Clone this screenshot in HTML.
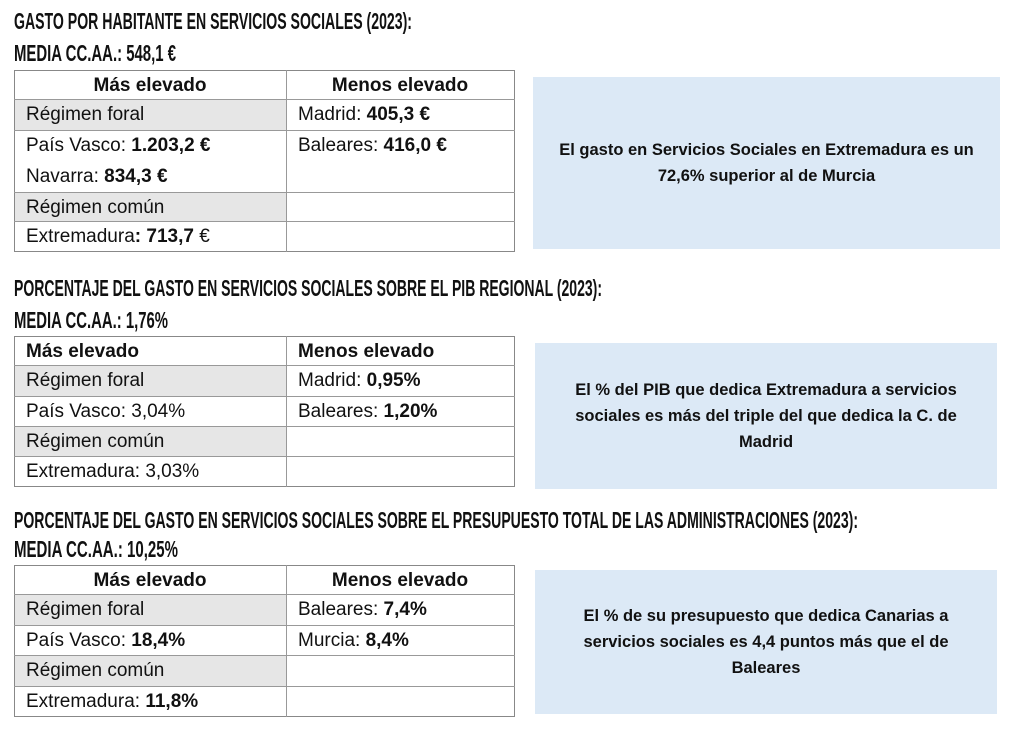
<!DOCTYPE html>
<html><head><meta charset="utf-8">
<style>
html,body{margin:0;padding:0}
body{width:1024px;height:739px;background:#fff;position:relative;overflow:hidden;font-family:"Liberation Sans",sans-serif;color:#111}
svg.t{position:absolute;left:0;top:0;overflow:hidden}
.c{position:absolute;box-sizing:border-box;font-size:19px;line-height:31px;padding-left:12px;white-space:nowrap;overflow:hidden}
.g{background:#e6e6e6}
.h{font-weight:bold;text-align:center;padding-left:0}
.hl{font-weight:bold}
.tb{position:absolute;border:1.5px solid #888;box-sizing:border-box}
.ln{position:absolute;background:#999}
.box{position:absolute;background:#dce9f6;display:flex;align-items:center;justify-content:center;text-align:center;font-weight:bold;font-size:16.5px;line-height:26px;box-sizing:border-box;padding:0 16px}
</style></head><body>

<svg class="t" width="1024" height="739">
<g font-family="Liberation Sans" font-weight="bold" font-size="23" fill="#111">
<text x="14" y="29" textLength="398" lengthAdjust="spacingAndGlyphs">GASTO POR HABITANTE EN SERVICIOS SOCIALES (2023):</text>
<text x="14" y="61" textLength="162" lengthAdjust="spacingAndGlyphs">MEDIA CC.AA.: 548,1 €</text>
<text x="14" y="296" textLength="588" lengthAdjust="spacingAndGlyphs">PORCENTAJE DEL GASTO EN SERVICIOS SOCIALES SOBRE EL PIB REGIONAL (2023):</text>
<text x="14" y="328" textLength="154" lengthAdjust="spacingAndGlyphs">MEDIA CC.AA.: 1,76%</text>
<text x="14" y="528" textLength="844" lengthAdjust="spacingAndGlyphs">PORCENTAJE DEL GASTO EN SERVICIOS SOCIALES SOBRE EL PRESUPUESTO TOTAL DE LAS ADMINISTRACIONES (2023):</text>
<text x="14" y="557" textLength="164" lengthAdjust="spacingAndGlyphs">MEDIA CC.AA.: 10,25%</text>
</g></svg>

<!-- Table 1 -->
<div class="c h" style="left:14px;top:70px;width:272px;height:29px">Más elevado</div>
<div class="c h" style="left:286px;top:70px;width:228px;height:29px">Menos elevado</div>
<div class="c g" style="left:14px;top:99px;width:272px;height:31px">Régimen foral</div>
<div class="c" style="left:286px;top:99px;width:228px;height:31px">Madrid: <b>405,3 €</b></div>
<div class="c" style="left:14px;top:130px;width:272px;height:31px">País Vasco: <b>1.203,2 €</b></div>
<div class="c" style="left:14px;top:161px;width:272px;height:31px">Navarra: <b>834,3 €</b></div>
<div class="c" style="left:286px;top:130px;width:228px;height:31px">Baleares: <b>416,0 €</b></div>
<div class="c g" style="left:14px;top:192px;width:272px;height:29px">Régimen común</div>
<div class="c" style="left:14px;top:221px;width:272px;height:30px">Extremadura<b>: 713,7</b> €</div>
<div class="tb" style="left:14px;top:70px;width:501px;height:182px"></div>
<div class="ln" style="left:286px;top:70px;width:1px;height:182px"></div>
<div class="ln" style="left:14px;top:99px;width:501px;height:1px"></div>
<div class="ln" style="left:14px;top:130px;width:501px;height:1px"></div>
<div class="ln" style="left:14px;top:192px;width:501px;height:1px"></div>
<div class="ln" style="left:14px;top:221px;width:501px;height:1px"></div>
<div class="box" style="left:533px;top:77px;width:467px;height:172px">El gasto en Servicios Sociales en Extremadura es un<br>72,6% superior al de Murcia</div>

<!-- Table 2 -->
<div class="c hl" style="left:14px;top:336px;width:272px;height:29px">Más elevado</div>
<div class="c hl" style="left:286px;top:336px;width:228px;height:29px">Menos elevado</div>
<div class="c g" style="left:14px;top:365px;width:272px;height:31px">Régimen foral</div>
<div class="c" style="left:286px;top:365px;width:228px;height:31px">Madrid: <b>0,95%</b></div>
<div class="c" style="left:14px;top:396px;width:272px;height:30px">País Vasco: 3,04%</div>
<div class="c" style="left:286px;top:396px;width:228px;height:30px">Baleares: <b>1,20%</b></div>
<div class="c g" style="left:14px;top:426px;width:272px;height:30px">Régimen común</div>
<div class="c" style="left:14px;top:456px;width:272px;height:30px">Extremadura: 3,03%</div>
<div class="tb" style="left:14px;top:336px;width:501px;height:151px"></div>
<div class="ln" style="left:286px;top:336px;width:1px;height:151px"></div>
<div class="ln" style="left:14px;top:365px;width:501px;height:1px"></div>
<div class="ln" style="left:14px;top:396px;width:501px;height:1px"></div>
<div class="ln" style="left:14px;top:426px;width:501px;height:1px"></div>
<div class="ln" style="left:14px;top:456px;width:501px;height:1px"></div>
<div class="box" style="left:535px;top:343px;width:462px;height:146px">El % del PIB que dedica Extremadura a servicios<br>sociales es más del triple del que dedica la C. de<br>Madrid</div>

<!-- Table 3 -->
<div class="c h" style="left:14px;top:565px;width:272px;height:29px">Más elevado</div>
<div class="c h" style="left:286px;top:565px;width:228px;height:29px">Menos elevado</div>
<div class="c g" style="left:14px;top:594px;width:272px;height:31px">Régimen foral</div>
<div class="c" style="left:286px;top:594px;width:228px;height:31px">Baleares: <b>7,4%</b></div>
<div class="c" style="left:14px;top:625px;width:272px;height:30px">País Vasco: <b>18,4%</b></div>
<div class="c" style="left:286px;top:625px;width:228px;height:30px">Murcia: <b>8,4%</b></div>
<div class="c g" style="left:14px;top:655px;width:272px;height:31px">Régimen común</div>
<div class="c" style="left:14px;top:686px;width:272px;height:30px">Extremadura: <b>11,8%</b></div>
<div class="tb" style="left:14px;top:565px;width:501px;height:152px"></div>
<div class="ln" style="left:286px;top:565px;width:1px;height:152px"></div>
<div class="ln" style="left:14px;top:594px;width:501px;height:1px"></div>
<div class="ln" style="left:14px;top:625px;width:501px;height:1px"></div>
<div class="ln" style="left:14px;top:655px;width:501px;height:1px"></div>
<div class="ln" style="left:14px;top:686px;width:501px;height:1px"></div>
<div class="box" style="left:535px;top:570px;width:462px;height:144px">El % de su presupuesto que dedica Canarias a<br>servicios sociales es 4,4 puntos más que el de<br>Baleares</div>

</body></html>
